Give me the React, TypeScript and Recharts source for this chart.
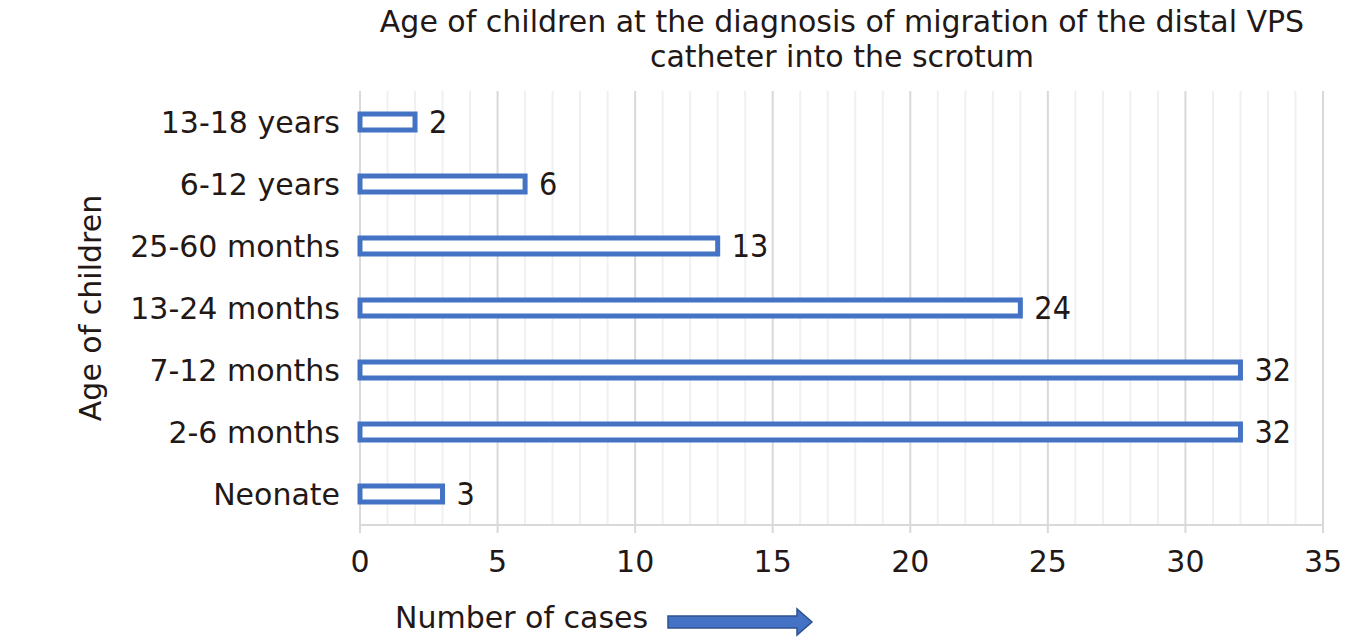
import React from 'react';
import { BarChart, Bar, XAxis, YAxis, CartesianGrid, LabelList } from 'recharts';

const categories = ['Neonate', '2-6 months', '7-12 months', '13-24 months', '25-60 months', '6-12 years', '13-18 years'];
const cases = [3, 32, 32, 24, 13, 6, 2];
const majorTicks = [0, 5, 10, 15, 20, 25, 30, 35];
const minorTicks = Array.from({ length: 36 }, (_, i) => i).filter((v) => v % 5 !== 0);

const FONT = '"DejaVu Sans", sans-serif';
const FONT_NUM = '"DejaVu Sans Condensed", "DejaVu Sans", sans-serif';
const TEXT = '#231815';
const BLUE = '#4472C4';

const data = categories.map((name, i) => ({ name, cases: cases[i] }));

const gridX = (values: number[]) => (props: any) => {
  const { xAxis, offset } = props;
  if (xAxis && typeof xAxis.scale === 'function') {
    return values.map((v) => xAxis.scale(v));
  }
  return values.map((v) => offset.left + (v / 35) * offset.width);
};

const XLabel = (props: any) => {
  const vb = props.viewBox || {};
  const y = vb.y + 103;
  return (
    <g>
      <text x={395} y={y} fontSize={30} fill={TEXT} fontFamily={FONT}>Number of cases</text>
      <path
        d="M668,616 L797,616 L797,609 L812,622 L797,635 L797,628 L668,628 Z"
        fill={BLUE}
        stroke="#2F528F"
        strokeWidth={1.5}
      />
    </g>
  );
};

export default function App() {
  return (
    <div style={{ position: 'absolute', left: 0, top: 0, width: 1346, height: 640, background: '#fff' }}>
      <BarChart
        width={1346}
        height={640}
        data={data}
        layout="vertical"
        margin={{ top: 91, right: 23, bottom: 85, left: 0 }}
        barSize={16}
      >
        <text x={842} y={32} textAnchor="middle" fontSize={30} fill={TEXT} fontFamily={FONT}>
          Age of children at the diagnosis of migration of the distal VPS
        </text>
        <text x={842} y={67} textAnchor="middle" fontSize={30} fill={TEXT} fontFamily={FONT}>
          catheter into the scrotum
        </text>
        <CartesianGrid
          horizontal={false}
          stroke="#F0F0F0"
          strokeWidth={2}
          verticalCoordinatesGenerator={gridX(minorTicks)}
        />
        <CartesianGrid
          horizontal={false}
          stroke="#D9D9D9"
          strokeWidth={2}
          verticalCoordinatesGenerator={gridX(majorTicks)}
        />
        <XAxis
          type="number"
          domain={[0, 35]}
          ticks={majorTicks}
          interval={0}
          stroke="#D9D9D9"
          strokeWidth={2}
          tickSize={8}
          tickMargin={18}
          tick={{ fontSize: 30, fill: TEXT, fontFamily: FONT }}
          label={<XLabel />}
        />
        <YAxis
          type="category"
          dataKey="name"
          width={360}
          axisLine={false}
          tickLine={false}
          tickSize={0}
          tickMargin={20}
          reversed
          tick={{ fontSize: 30, fill: TEXT, fontFamily: FONT }}
          label={{
            value: 'Age of children',
            angle: -90,
            position: 'insideLeft',
            offset: 0,
            dx: 90,
            style: { fontSize: 30, fill: TEXT, fontFamily: FONT, textAnchor: 'middle' },
          }}
        />
        <Bar dataKey="cases" fill="#FFFFFF" stroke={BLUE} strokeWidth={5} isAnimationActive={false}>
          <LabelList dataKey="cases" position="right" offset={14} fontSize={32} fill={TEXT} fontFamily={FONT_NUM} />
        </Bar>
      </BarChart>
    </div>
  );
}
